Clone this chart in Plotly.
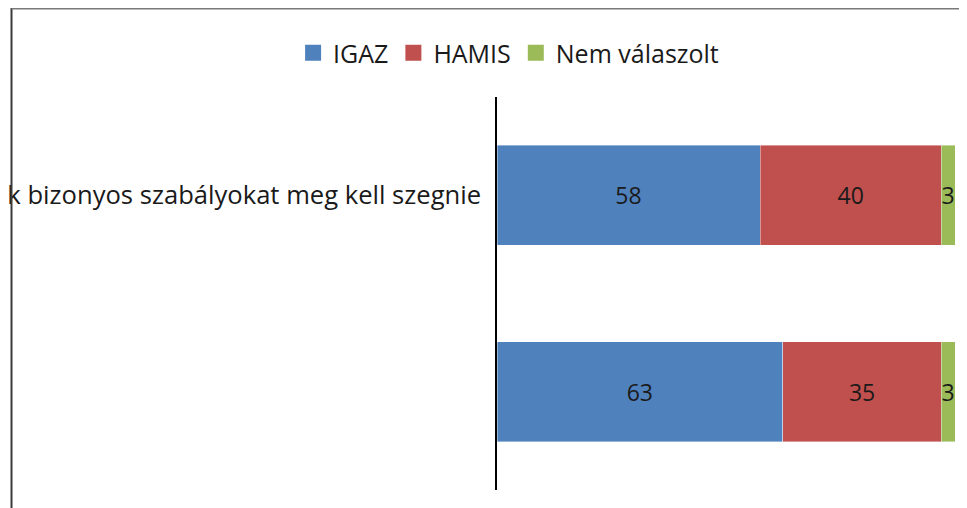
import plotly.graph_objects as go

categories = ["k bizonyos szabályokat meg kell szegnie", ""]
positions = [0, 1]
igaz = [58, 63]
hamis = [40, 35]
nem_valaszolt = [3, 3]
series_names = ["IGAZ", "HAMIS", "Nem válaszolt"]
colors = ["#4F81BD", "#C0504D", "#9BBB59"]

FONT = "Open Sans, DejaVu Sans, sans-serif"

fig = go.Figure()
for name, vals, col in zip(series_names, [igaz, hamis, nem_valaszolt], colors):
    fig.add_trace(go.Bar(
        name=name, y=positions, x=vals, orientation="h",
        marker=dict(color=col, line=dict(color="rgba(255,255,255,0.5)", width=0.8)),
        width=0.51, showlegend=False,
        text=[str(v) for v in vals], textposition="inside",
        insidetextanchor="middle", constraintext="none",
        textfont=dict(family=FONT, size=23, color="#1a1a1a"),
        cliponaxis=False,
    ))
# legend entries with larger square swatches
for name, col in zip(series_names, colors):
    fig.add_trace(go.Scatter(
        name=name, x=[None], y=[None], mode="markers",
        marker=dict(symbol="square", size=18, color=col),
        showlegend=True, hoverinfo="skip",
    ))

# page is offset by the browser's 8px body margin
W, H = 959, 500
L, R, T, B = 489, 12, 89, 18
pw = W - L - R
ph = H - T - B

def px_x(p):
    return (p - L) / pw

def px_y(p):
    return (H - B - p) / ph

fig.update_layout(
    barmode="stack",
    width=W, height=H,
    margin=dict(l=L, r=R, t=T, b=B, autoexpand=False),
    paper_bgcolor="white", plot_bgcolor="white",
    showlegend=True,
    legend=dict(orientation="h", xref="container", yref="container",
                x=0.522, y=0.91, xanchor="center", yanchor="middle",
                font=dict(family=FONT, size=25, color="#1a1a1a"),
                traceorder="normal", itemwidth=30),
    xaxis=dict(range=[0, 101], showgrid=False, zeroline=False, showticklabels=False,
               showline=False, fixedrange=True),
    yaxis=dict(range=[1.5, -0.5], tickvals=positions, ticktext=categories,
               showgrid=False, zeroline=False, showline=True, linecolor="#000000",
               linewidth=1.5, ticks="", ticklabelstandoff=9,
               tickfont=dict(family=FONT, size=25.6, color="#1a1a1a")),
    shapes=[
        dict(type="line", xref="paper", yref="paper", x0=px_x(3.5), x1=px_x(3.5),
             y0=px_y(0), y1=px_y(502), line=dict(color="#3a3a3a", width=2)),
        dict(type="line", xref="paper", yref="paper", x0=px_x(3.5), x1=px_x(962),
             y0=px_y(0.8), y1=px_y(0.8), line=dict(color="#7a7a7a", width=1.5)),
    ],
)
fig.write_html("out.html")
